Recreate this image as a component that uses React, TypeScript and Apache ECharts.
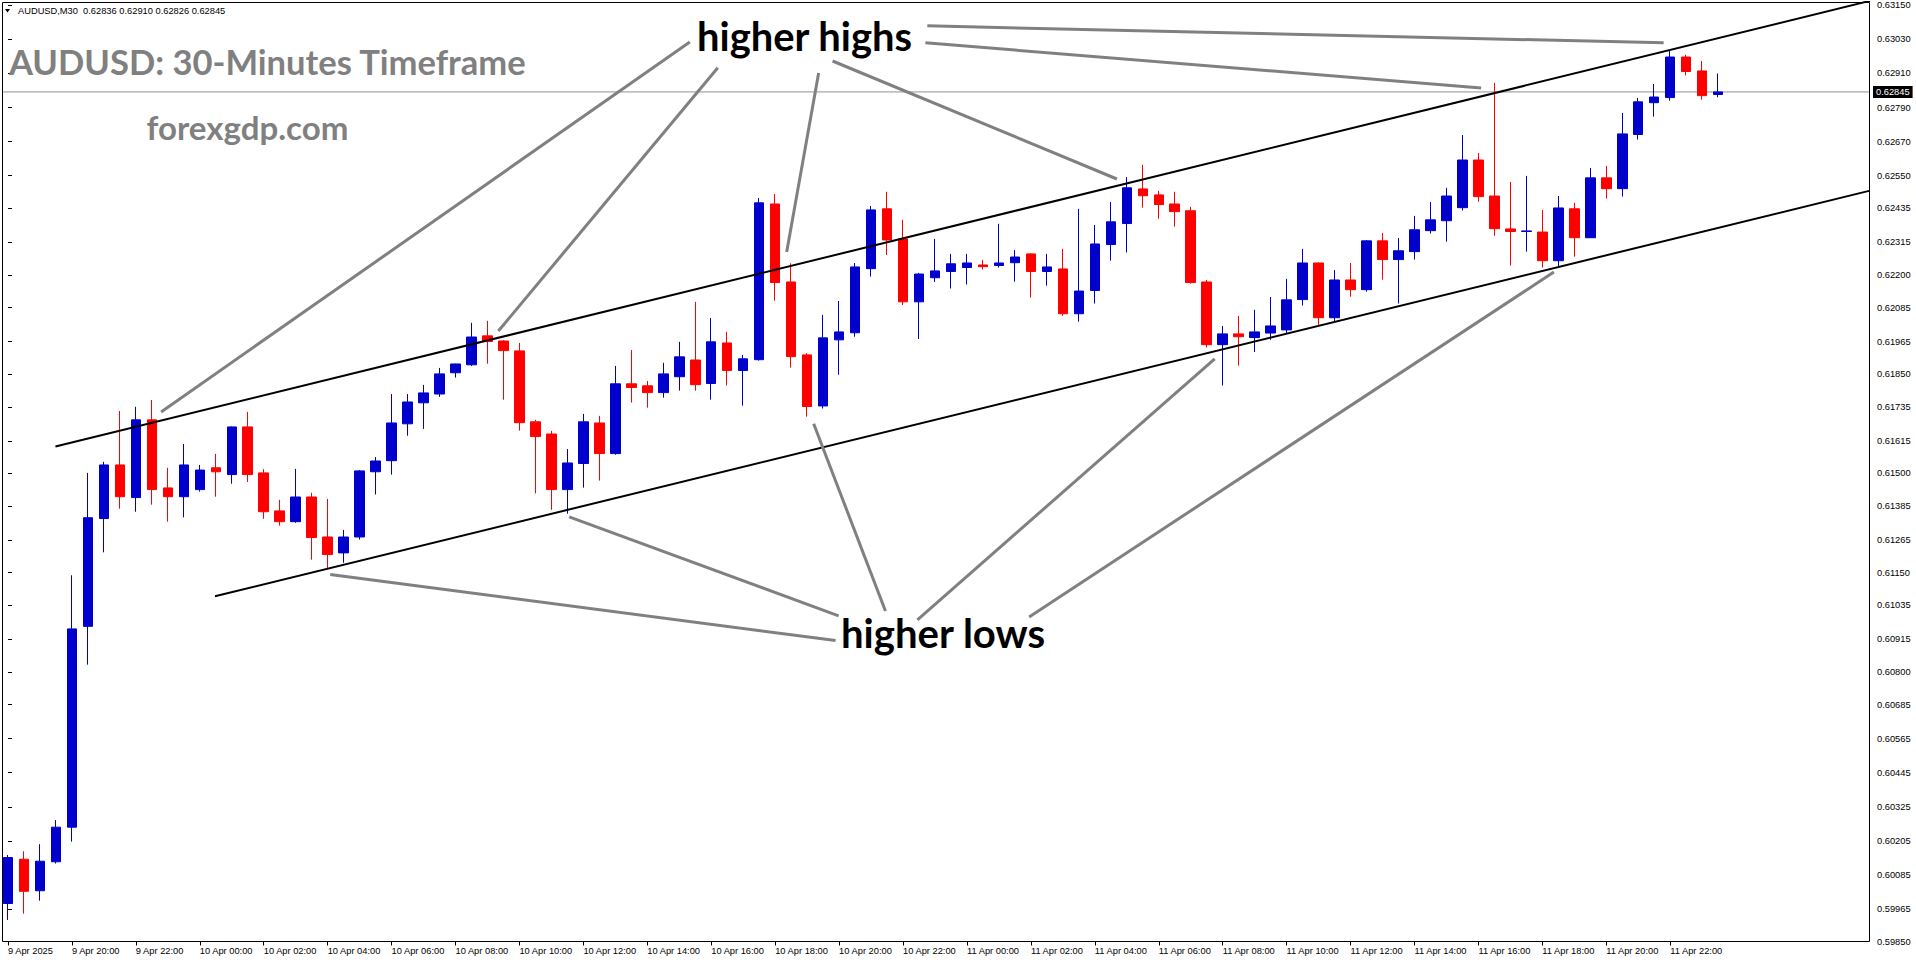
import React, { useEffect, useRef } from "react";
import * as echarts from "echarts";

// ---------------- data ----------------
const symbolName = "AUDUSD,M30";
const titleText = "AUDUSD: 30-Minutes Timeframe";
const siteText = "forexgdp.com";
const highsText = "higher highs";
const lowsText = "higher lows";

const opens = [
  0.59984, 0.60140, 0.60029, 0.60131, 0.60253, 0.60961, 0.61341, 0.61530, 0.61415, 0.61689,
  0.61449, 0.61418, 0.61443, 0.61520, 0.61496, 0.61664, 0.61502, 0.61368, 0.61330, 0.61417,
  0.61276, 0.61220, 0.61276, 0.61506, 0.61545, 0.61675, 0.61749, 0.61780, 0.61855, 0.61883,
  0.61985, 0.61967, 0.61932, 0.61682, 0.61639, 0.61443, 0.61535, 0.61678, 0.61570, 0.61816,
  0.61809, 0.61785, 0.61841, 0.61900, 0.61817, 0.61960, 0.61863, 0.61901, 0.62450, 0.62175,
  0.61918, 0.61738, 0.61971, 0.61996, 0.62222, 0.62433, 0.62327, 0.62105, 0.62190, 0.62212,
  0.62226, 0.62235, 0.62233, 0.62243, 0.62274, 0.62212, 0.62221, 0.62063, 0.62145, 0.62307,
  0.62381, 0.62503, 0.62482, 0.62450, 0.62426, 0.62175, 0.61954, 0.61992, 0.61979, 0.61995,
  0.62006, 0.62113, 0.62242, 0.62049, 0.62182, 0.62148, 0.62320, 0.62254, 0.62282, 0.62356,
  0.62391, 0.62437, 0.62605, 0.62478, 0.62362, 0.62353, 0.62351, 0.62250, 0.62433, 0.62331,
  0.62542, 0.62504, 0.62695, 0.62807, 0.62825, 0.62968, 0.62919, 0.62836,
];
const closes = [
  0.60146, 0.60027, 0.60133, 0.60253, 0.60952, 0.61344, 0.61530, 0.61418, 0.61689, 0.61443,
  0.61418, 0.61530, 0.61512, 0.61506, 0.61664, 0.61496, 0.61365, 0.61330, 0.61417, 0.61274,
  0.61214, 0.61276, 0.61509, 0.61544, 0.61678, 0.61752, 0.61784, 0.61851, 0.61886, 0.61981,
  0.61965, 0.61933, 0.61679, 0.61630, 0.61443, 0.61537, 0.61682, 0.61570, 0.61816, 0.61803,
  0.61785, 0.61851, 0.61911, 0.61813, 0.61964, 0.61863, 0.61904, 0.62454, 0.62173, 0.61912,
  0.61736, 0.61978, 0.61999, 0.62228, 0.62429, 0.62323, 0.62105, 0.62203, 0.62214, 0.62239,
  0.62242, 0.62229, 0.62242, 0.62263, 0.62212, 0.62228, 0.62063, 0.62143, 0.62309, 0.62387,
  0.62507, 0.62479, 0.62448, 0.62423, 0.62173, 0.61954, 0.61992, 0.61982, 0.61999, 0.62020,
  0.62112, 0.62242, 0.62049, 0.62182, 0.62148, 0.62320, 0.62254, 0.62285, 0.62359, 0.62394,
  0.62478, 0.62605, 0.62476, 0.62363, 0.62353, 0.62355, 0.62250, 0.62436, 0.62331, 0.62542,
  0.62504, 0.62697, 0.62810, 0.62827, 0.62968, 0.62917, 0.62832, 0.62845,
];
const highs = [
  0.60155, 0.60168, 0.60193, 0.60278, 0.61141, 0.61502, 0.61541, 0.61720, 0.61735, 0.61759,
  0.61520, 0.61604, 0.61530, 0.61569, 0.61666, 0.61717, 0.61515, 0.61407, 0.61516, 0.61432,
  0.61410, 0.61301, 0.61512, 0.61558, 0.61780, 0.61780, 0.61812, 0.61872, 0.61887, 0.62031,
  0.62038, 0.61970, 0.61960, 0.61689, 0.61650, 0.61586, 0.61710, 0.61703, 0.61879, 0.61935,
  0.61826, 0.61890, 0.61964, 0.62105, 0.62048, 0.61999, 0.61918, 0.62471, 0.62485, 0.62241,
  0.61924, 0.62059, 0.62108, 0.62242, 0.62443, 0.62493, 0.62394, 0.62207, 0.62327, 0.62274,
  0.62274, 0.62253, 0.62380, 0.62288, 0.62276, 0.62274, 0.62292, 0.62433, 0.62376, 0.62457,
  0.62545, 0.62588, 0.62496, 0.62493, 0.62440, 0.62182, 0.62020, 0.62055, 0.62077, 0.62122,
  0.62186, 0.62292, 0.62244, 0.62217, 0.62242, 0.62323, 0.62348, 0.62330, 0.62408, 0.62457,
  0.62507, 0.62693, 0.62630, 0.62877, 0.62528, 0.62549, 0.62429, 0.62478, 0.62454, 0.62577,
  0.62584, 0.62771, 0.62824, 0.62873, 0.62993, 0.62976, 0.62954, 0.62910,
];
const lows = [
  0.59926, 0.59948, 0.59994, 0.60125, 0.60202, 0.60826, 0.61222, 0.61376, 0.61365, 0.61390,
  0.61330, 0.61345, 0.61436, 0.61418, 0.61464, 0.61470, 0.61340, 0.61316, 0.61326, 0.61196,
  0.61162, 0.61185, 0.61267, 0.61426, 0.61496, 0.61633, 0.61657, 0.61770, 0.61838, 0.61879,
  0.61887, 0.61760, 0.61651, 0.61430, 0.61372, 0.61358, 0.61450, 0.61475, 0.61566, 0.61750,
  0.61732, 0.61767, 0.61792, 0.61792, 0.61760, 0.61810, 0.61739, 0.61898, 0.62109, 0.61873,
  0.61700, 0.61729, 0.61848, 0.61982, 0.62194, 0.62270, 0.62094, 0.61974, 0.62175, 0.62152,
  0.62166, 0.62219, 0.62226, 0.62176, 0.62120, 0.62162, 0.62056, 0.62035, 0.62099, 0.62250,
  0.62279, 0.62437, 0.62398, 0.62370, 0.62169, 0.61944, 0.61810, 0.61880, 0.61928, 0.61971,
  0.61992, 0.62092, 0.62024, 0.62034, 0.62123, 0.62141, 0.62183, 0.62099, 0.62254, 0.62346,
  0.62317, 0.62427, 0.62458, 0.62338, 0.62233, 0.62282, 0.62226, 0.62229, 0.62264, 0.62330,
  0.62469, 0.62476, 0.62677, 0.62758, 0.62814, 0.62903, 0.62818, 0.62826,
];

const xTickLabels = [
  "9 Apr 2025", "9 Apr 20:00", "9 Apr 22:00",
  "10 Apr 00:00", "10 Apr 02:00", "10 Apr 04:00", "10 Apr 06:00", "10 Apr 08:00", "10 Apr 10:00",
  "10 Apr 12:00", "10 Apr 14:00", "10 Apr 16:00", "10 Apr 18:00", "10 Apr 20:00", "10 Apr 22:00",
  "11 Apr 00:00", "11 Apr 02:00", "11 Apr 04:00", "11 Apr 06:00", "11 Apr 08:00", "11 Apr 10:00",
  "11 Apr 12:00", "11 Apr 14:00", "11 Apr 16:00", "11 Apr 18:00", "11 Apr 20:00", "11 Apr 22:00",
];
const barsPerTick = 4;
const emptyBarsRight = 9;

const yTickValues = [
  0.6315, 0.6303, 0.6291, 0.6279, 0.6267, 0.6255, 0.62435, 0.62315, 0.622, 0.62085,
  0.61965, 0.6185, 0.61735, 0.61615, 0.615, 0.61385, 0.61265, 0.6115, 0.61035, 0.60915,
  0.608, 0.60685, 0.60565, 0.60445, 0.60325, 0.60205, 0.60085, 0.59965, 0.5985,
];
const yMin = 0.5985;
const yMax = 0.63162;
const lastPrice = closes[closes.length - 1];

// trend lines, [bar index, price]
const channelUpper = [[2.97, 0.61595], [116.5, 0.63166]];
const channelLower = [[12.95, 0.61067], [116.5, 0.62497]];
const highsPointers = [
  [[42.66, 0.63021], [9.58, 0.61717]],
  [[44.41, 0.6293], [30.68, 0.62002]],
  [[50.72, 0.62912], [48.72, 0.62281]],
  [[51.59, 0.62954], [69.38, 0.62538]],
  [[57.4, 0.63018], [92.17, 0.62859]],
  [[57.52, 0.63078], [103.59, 0.63018]],
];
const lowsPointers = [
  [[51.78, 0.60911], [20.16, 0.61144]],
  [[51.97, 0.60998], [35.11, 0.61347]],
  [[54.9, 0.61015], [50.41, 0.61675]],
  [[56.9, 0.60984], [75.5, 0.61904]],
  [[63.89, 0.60994], [96.72, 0.6221]],
];

// ---------------- helpers ----------------
const W = 1916;
const H = 964;
const axisFont = "Liberation Sans";
const bigFont = "Lato";

function fitSize(text: string, weight: string, family: string, target: number): number {
  const c = document.createElement("canvas").getContext("2d");
  if (!c) return 30;
  c.font = `${weight} 100px ${family}`;
  const w = c.measureText(text).width;
  return (100 * target) / w;
}

export default function App() {
  const ref = useRef<HTMLDivElement>(null);

  useEffect(() => {
    if (!ref.current) return;
    const chart = echarts.init(ref.current, null, { renderer: "svg" });

    const nCats = opens.length + emptyBarsRight;
    const categories: string[] = [];
    for (let i = 0; i < nCats; i++) {
      const t = 18 * 60 + i * 30;
      const d = 9 + Math.floor(t / 1440);
      const m = t % 1440;
      categories.push(`${d} Apr ${String(Math.floor(m / 60)).padStart(2, "0")}:${String(m % 60).padStart(2, "0")}`);
    }
    const showTick = (i: number) => i % barsPerTick === 0 && i < opens.length;

    const candleData = opens.map((o, i) => [o, closes[i], lows[i], highs[i]]);

    const lineSeries = (pts: number[][], color: string, width: number) => ({
      type: "line",
      xAxisIndex: 1,
      yAxisIndex: 0,
      data: pts,
      symbol: "none",
      silent: true,
      clip: true,
      z: 5,
      lineStyle: { color, width },
      emphasis: { disabled: true },
    });

    const titleSize = fitSize(titleText, "bold", bigFont, 518);
    const siteSize = fitSize(siteText, "bold", bigFont, 202);
    const highsSize = fitSize(highsText, "bold", bigFont, 216);
    const lowsSize = fitSize(lowsText, "bold", bigFont, 205);
    const central = 0.387;

    const header = `${symbolName}  ${opens[107].toFixed(5)} ${highs[107].toFixed(5)} ${lows[107].toFixed(5)} ${closes[107].toFixed(5)}`;

    const option: any = {
      animation: false,
      backgroundColor: "#ffffff",
      grid: { left: -4.5, right: 46, top: 2, bottom: 22.5, containLabel: false },
      xAxis: [
        {
          type: "category",
          data: categories,
          boundaryGap: true,
          axisLine: { show: false },
          axisTick: {
            show: true,
            alignWithLabel: true,
            interval: (i: number) => showTick(i),
            length: 4,
            lineStyle: { color: "#000", width: 1 },
          },
          axisLabel: {
            show: true,
            interval: (i: number) => showTick(i),
            formatter: (_v: string, i: number) => xTickLabels[i / barsPerTick] ?? "",
            align: "left",
            margin: 5,
            color: "#000",
            fontSize: 9.3,
            fontFamily: axisFont,
          },
          splitLine: { show: false },
        },
        {
          type: "value",
          min: -0.5,
          max: nCats - 0.5,
          show: false,
        },
      ],
      yAxis: [
        {
          type: "value",
          position: "right",
          min: yMin,
          max: yMax,
          axisLine: { show: false },
          axisTick: {
            show: true,
            length: 4,
            customValues: yTickValues,
            lineStyle: { color: "#000", width: 1 },
          },
          axisLabel: {
            show: true,
            customValues: yTickValues,
            formatter: (v: number) => v.toFixed(5),
            margin: 7,
            color: "#000",
            fontSize: 9.3,
            fontFamily: axisFont,
          },
          splitLine: { show: false },
        },
      ],
      series: [
        {
          type: "line",
          xAxisIndex: 1,
          yAxisIndex: 0,
          data: [[-0.5, lastPrice], [nCats - 0.5, lastPrice]],
          symbol: "none",
          silent: true,
          clip: false,
          z: 2,
          lineStyle: { color: "#909090", width: 1 },
          emphasis: { disabled: true },
          endLabel: {
            show: true,
            formatter: () => lastPrice.toFixed(5),
            color: "#fff",
            backgroundColor: "#000",
            padding: [2, 3, 1, 3],
            fontSize: 9.3,
            fontFamily: axisFont,
            distance: 3,
          },
        },
        {
          type: "candlestick",
          xAxisIndex: 0,
          yAxisIndex: 0,
          data: candleData,
          barWidth: 10,
          z: 3,
          itemStyle: {
            color: "#0000CD",
            color0: "#FF0000",
            borderColor: "#0000CD",
            borderColor0: "#FF0000",
            borderWidth: 1,
          },
          emphasis: { disabled: true },
        },
        lineSeries(channelUpper, "#000000", 2),
        lineSeries(channelLower, "#000000", 2),
        ...highsPointers.map((p) => lineSeries(p, "#808080", 3)),
        ...lowsPointers.map((p) => lineSeries(p, "#808080", 3)),
      ],
      graphic: [
        { type: "rect", z: 100, shape: { x: 0, y: 0, width: 2, height: H }, style: { fill: "#fff" }, silent: true },
        {
          type: "rect",
          z: 101,
          shape: { x: 2.5, y: 2.5, width: 1867, height: 939 },
          style: { fill: "none", stroke: "#000", lineWidth: 1 },
          silent: true,
        },
        {
          type: "polygon",
          z: 101,
          shape: { points: [[5, 9], [10, 9], [7.5, 12.5]] },
          style: { fill: "#000" },
          silent: true,
        },
        {
          type: "text",
          z: 101,
          x: 18,
          y: 11,
          silent: true,
          style: { text: header, fill: "#000", font: `9.3px ${axisFont}`, align: "left", verticalAlign: "middle" },
        },
        {
          type: "text",
          z: 101,
          x: 9,
          y: 75 - central * titleSize,
          silent: true,
          style: { text: titleText, fill: "#808080", font: `bold ${titleSize}px ${bigFont}`, align: "left", verticalAlign: "middle" },
        },
        {
          type: "text",
          z: 101,
          x: 146.5,
          y: 140 - central * siteSize,
          silent: true,
          style: { text: siteText, fill: "#808080", font: `bold ${siteSize}px ${bigFont}`, align: "left", verticalAlign: "middle" },
        },
        {
          type: "text",
          z: 101,
          x: 697,
          y: 51 - central * highsSize,
          silent: true,
          style: { text: highsText, fill: "#000", font: `bold ${highsSize}px ${bigFont}`, align: "left", verticalAlign: "middle" },
        },
        {
          type: "text",
          z: 101,
          x: 841,
          y: 648 - central * lowsSize,
          silent: true,
          style: { text: lowsText, fill: "#000", font: `bold ${lowsSize}px ${bigFont}`, align: "left", verticalAlign: "middle" },
        },
      ],
    };

    chart.setOption(option);
    return () => chart.dispose();
  }, []);

  return (
    <div
      ref={ref}
      style={{ position: "fixed", left: 0, top: 0, width: W, height: H, background: "#fff" }}
    />
  );
}
